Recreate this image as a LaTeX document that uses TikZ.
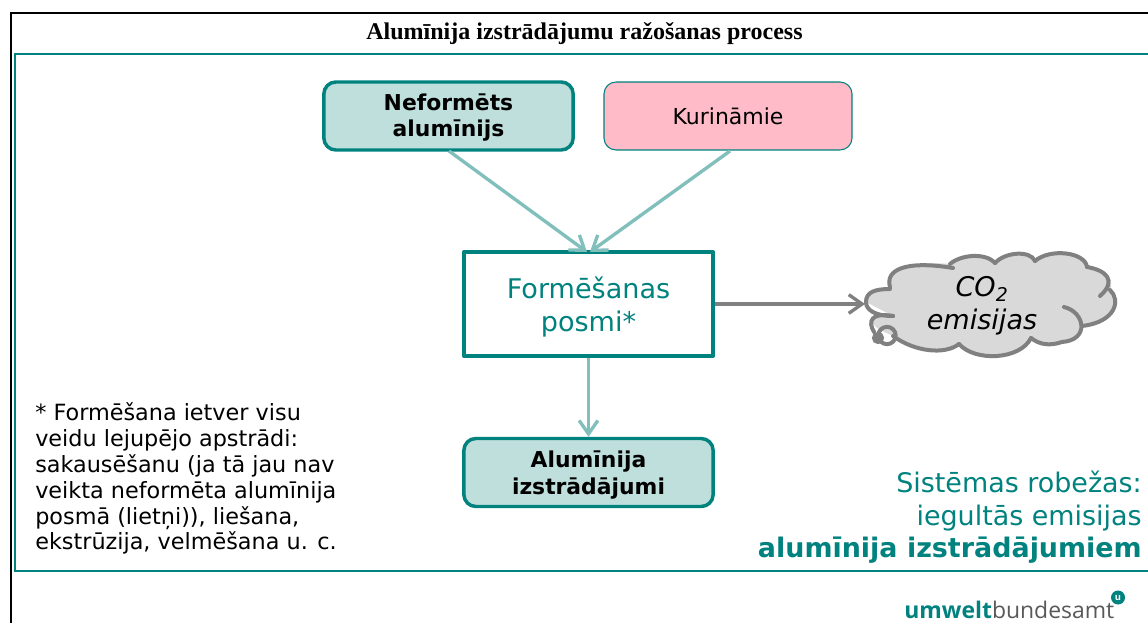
\documentclass[tikz,border=0pt]{standalone}
\usepackage{fontspec}
\setmainfont{DejaVu Sans}
\newfontfamily\titlefont{Liberation Serif}
\newfontfamily\logofont{Open Sans}
\usetikzlibrary{arrows.meta}
\definecolor{teal1}{HTML}{00827F}
\definecolor{tealfill}{HTML}{BFDFDD}
\definecolor{tealarrow}{HTML}{80BFBC}
\definecolor{pinkfill}{HTML}{FFBBC8}
\definecolor{cloudgray}{HTML}{808080}
\definecolor{cloudfill}{HTML}{D9D9D9}
\newcommand{\fs}[1]{\fontsize{#1}{#1}\selectfont}
\tikzset{
  x=0.75pt,y=-0.75pt,
  boxa/.style={draw=teal1,line width=2.6pt,fill=tealfill,rounded corners=9pt,minimum width=187pt,minimum height=51pt,align=center,inner sep=0pt},
  arr/.style={draw=tealarrow,line width=2.5pt,-{Straight Barb[length=10pt,width=14pt,line width=2.5pt]}},
  grayarr/.style={draw=cloudgray,line width=2.5pt,-{Straight Barb[length=10pt,width=14pt,line width=2.5pt]}},
  cl/.style={draw=cloudgray,line width=3pt,line cap=round},
}
\begin{document}
\begin{tikzpicture}
\useasboundingbox (0,0) rectangle (1148,623);
\fill[white] (0,0) rectangle (1148,623);
% frames
\draw[black,line width=1.5pt] (10.5,623) -- (10.5,13.5) -- (1148,13.5);
\draw[teal1,line width=1.8pt] (1148,571) -- (15,571) -- (15,54) -- (1148,54);
\node[font=\titlefont\bfseries\fs{18}] (title) at (584.5,33.5) {Alumīnija izstrādājumu ražošanas process};
% nodes
\node[boxa,font=\bfseries\fontsize{16.4}{20}\selectfont] (raw) at (448.5,116) {\rule{0pt}{15pt}Neformēts\\alumīnijs};
\node[draw=teal1,line width=0.8pt,fill=pinkfill,rounded corners=9pt,minimum width=186pt,minimum height=51pt,font=\fs{16.5}] (fuel) at (728,116) {Kurināmie};
\node[draw=teal1,line width=3pt,fill=white,line join=round,minimum width=186.75pt,minimum height=78pt,align=center,inner sep=0pt,text=teal1,font=\fontsize{20.3}{24.8}\selectfont] (form) at (588.5,304) {\rule{0pt}{20.5pt}Formēšanas\\posmi*};
\node[boxa,font=\bfseries\fontsize{16.4}{20}\selectfont] (prod) at (588.5,472.5) {\rule{0pt}{16.5pt}Alumīnija\\izstrādājumi};
% cloud
\fill[cloudfill] (866,302)
 .. controls (866,292) and (875,289) .. (890,287)
 .. controls (885,270) and (905,260) .. (950,264)
 .. controls (960,255) and (985,252) .. (995,263)
 .. controls (1005,252) and (1030,250) .. (1035,261)
 .. controls (1050,248) and (1085,252) .. (1087,267)
 .. controls (1105,270) and (1115,282) .. (1110,290)
 .. controls (1121,300) and (1116,322) .. (1082,326)
 .. controls (1085,340) and (1060,350) .. (1031,338)
 .. controls (1020,360) and (975,362) .. (959,344)
 .. controls (945,355) and (915,352) .. (893,336)
 -- (880,330) .. controls (865,320) and (870,312) .. (893,316) -- cycle;
\draw[cl] (890,289) .. controls (875,289) and (866,292) .. (866,302) .. controls (866,310) and (875,316) .. (893,316);
\draw[cl] (890,287) .. controls (885,270) and (905,260) .. (953,268);
\draw[cl] (950,264) .. controls (960,255) and (985,252) .. (995,263);
\draw[cl] (995,263) .. controls (1005,252) and (1030,250) .. (1035,261);
\draw[cl] (1035,261) .. controls (1050,248) and (1085,252) .. (1087,267);
\draw[cl] (1087,267) .. controls (1105,270) and (1118,280) .. (1100,296);
\draw[cl] (1110,290) .. controls (1121,300) and (1116,322) .. (1082,326);
\draw[cl] (1064,307) .. controls (1085,312) and (1090,340) .. (1062,342) .. controls (1050,346) and (1040,345) .. (1031,338);
\draw[cl] (1031,338) .. controls (1020,360) and (975,362) .. (959,344);
\draw[cl] (959,344) .. controls (945,355) and (915,352) .. (893,336);
\draw[cl] (893,316) .. controls (870,312) and (868,322) .. (874,332);
\draw[cl] (887,335.5) circle (6.5pt);
\draw[cl,fill=cloudgray] (878,338) circle (3pt);
\node[font=\itshape\fontsize{20.3}{24.5}\selectfont,align=center,inner sep=0pt] (cloud) at (982,306) {CO\textsubscript{2}\\emisijas};
\coordinate (cloudin) at (865,304);
% connectors
\draw[arr] (449,151) -- (587,252);
\draw[arr] (730,151) -- (590,252);
\draw[arr] (form.south) -- (prod.north);
\draw[grayarr] (form.east) -- (cloudin);
% notes
\node[anchor=north west,align=left,inner sep=0pt,font=\fontsize{16.75}{19.4}\selectfont] (note) at (35,402.5) {* Formēšana ietver visu\\veidu lejupējo apstrādi:\\sakausēšanu (ja tā jau nav\\veikta neformēta alumīnija\\posmā (lietņi)), liešana,\\ekstrūzija, velmēšana u. c.};
\node[anchor=east,align=right,inner sep=0pt,text=teal1,font=\fontsize{20.2}{24.4}\selectfont] (sys) at (1142,517.5) {Sistēmas robežas:\\iegultās emisijas\\\textbf{alumīnija izstrādājumiem}};
% logo
\node[anchor=base west,inner sep=0pt,font=\logofont\fs{17.2},text=black!65] (logo) at (904,618) {\textcolor{teal1}{\bfseries umwelt}bundesamt};
\node[circle,fill=teal1,inner sep=0pt,minimum size=10.5pt,font=\logofont\bfseries\fs{7},text=white] (mark) at (1118,597.5) {u};
\end{tikzpicture}
\end{document}
